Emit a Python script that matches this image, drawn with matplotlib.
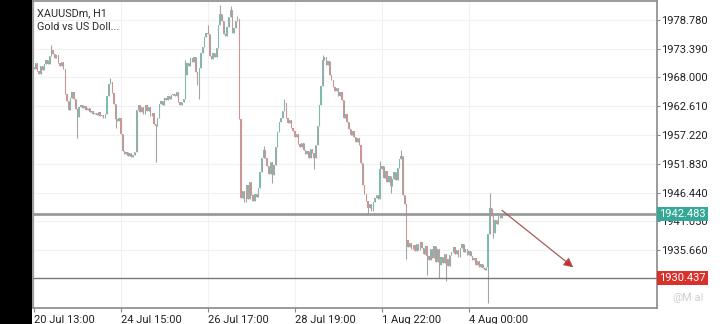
import matplotlib
matplotlib.use("Agg")
import matplotlib.pyplot as plt
from matplotlib.patches import Rectangle
from matplotlib.transforms import blended_transform_factory

plt.rcParams['font.family'] = ['Roboto', 'DejaVu Sans']

# ---------------- data (H1 closes) ----------------
first_open = 1970.0
closes = [
    1969.5, 1970.8, 1969.2, 1968.6, 1970.1, 1969.4, 1970.6, 1971.2, 1970.5, 1972.1,
    1973.2, 1972.4, 1971.6, 1972.3, 1970.8, 1970.2, 1970.9, 1969.6, 1965.0, 1963.6,
    1962.0, 1964.2, 1965.3, 1964.0, 1962.1, 1960.6, 1962.4, 1962.9, 1962.3, 1962.6,
    1961.9, 1962.2, 1961.5, 1961.8, 1961.1, 1961.4, 1960.9, 1961.6, 1960.7, 1961.0,
    1960.5, 1961.2, 1964.5, 1966.8, 1967.2, 1965.1, 1963.0, 1960.3, 1959.8, 1960.4,
    1957.5, 1954.2, 1953.6, 1954.0, 1953.2, 1953.8, 1953.1, 1953.5, 1954.0, 1962.0,
    1962.8, 1961.6, 1962.4, 1961.2, 1962.9, 1961.8, 1962.5, 1960.8, 1961.4, 1959.3,
    1958.9, 1960.4, 1963.0, 1963.6, 1962.9, 1964.2, 1963.8, 1964.5, 1964.0, 1964.7,
    1965.0, 1964.6, 1965.2, 1963.4, 1962.8, 1963.5, 1963.9, 1968.5, 1970.8, 1970.2,
    1971.6, 1970.9, 1971.8, 1969.0, 1966.5, 1969.8, 1972.5, 1973.8, 1975.6, 1976.4,
    1976.2, 1972.0, 1971.5, 1972.6, 1971.8, 1973.5, 1977.8, 1979.9, 1978.6, 1976.2,
    1975.8, 1977.5, 1979.4, 1980.6, 1976.4, 1977.2, 1978.5, 1978.9, 1960.2, 1945.5,
    1946.8, 1944.6, 1947.9, 1945.2, 1948.4, 1946.0, 1944.9, 1946.2, 1945.6, 1947.3,
    1950.2, 1952.9, 1954.5, 1953.0, 1951.5, 1950.0, 1952.2, 1949.8, 1951.6, 1955.0,
    1957.8, 1959.6, 1960.4, 1961.8, 1963.2, 1960.5, 1959.4, 1960.0, 1958.6, 1957.9,
    1956.8, 1957.4, 1955.6, 1954.9, 1955.8, 1954.5, 1953.6, 1954.2, 1953.0, 1954.6,
    1953.8, 1952.9, 1955.4, 1959.0, 1962.8, 1966.4, 1971.2, 1971.8, 1970.4, 1971.0,
    1968.4, 1967.6, 1966.3, 1965.4, 1966.0, 1964.6, 1965.2, 1963.8, 1960.5, 1961.2,
    1959.6, 1958.4, 1957.2, 1957.9, 1956.8, 1956.0, 1956.6, 1955.4, 1952.0, 1947.8,
    1946.2, 1944.8, 1943.6, 1944.2, 1943.0, 1944.6, 1945.5, 1946.0, 1945.2, 1950.8,
    1951.4, 1949.2, 1950.5, 1948.4, 1949.6, 1947.6, 1948.9, 1950.2, 1948.8, 1951.0,
    1952.8, 1953.2, 1946.0, 1944.2, 1937.5, 1936.2, 1937.0, 1935.8, 1936.6, 1935.4,
    1936.8, 1935.6, 1937.2, 1936.0, 1935.0, 1936.4, 1934.6, 1933.8, 1935.9, 1934.2,
    1936.5, 1933.5, 1935.8, 1932.9, 1934.4, 1933.2, 1935.0, 1934.0, 1932.6, 1934.8,
    1935.2, 1936.3, 1934.9, 1935.6, 1934.4, 1936.0, 1936.8, 1935.3, 1935.9, 1934.7,
    1935.4, 1934.6, 1933.8, 1934.2, 1932.9, 1933.6, 1932.5, 1933.1, 1932.3, 1931.9,
    1932.4, 1938.6, 1943.6, 1942.0, 1938.9, 1941.2, 1940.6, 1942.0, 1941.6, 1942.483,
]
# notable wicks (bar index -> price)
wick_highs = {10: 1974.0, 44: 1967.9, 87: 1971.2, 100: 1977.8, 107: 1981.6, 113: 1981.4,
              117: 1979.6, 132: 1955.2, 144: 1963.9, 166: 1972.3, 199: 1952.3,
              211: 1954.5, 262: 1946.4}
wick_lows = {25: 1956.7, 47: 1958.6, 70: 1952.1, 95: 1963.9, 137: 1948.3, 161: 1950.9,
             192: 1942.3, 205: 1946.3, 214: 1934.0, 226: 1931.0, 233: 1930.5,
             237: 1929.8, 261: 1925.8, 264: 1938.0}

y_ticks = [1935.660, 1941.050, 1946.440, 1951.830, 1957.220, 1962.610, 1968.000, 1973.390, 1978.780]
x_tick_bars = [0, 50, 100, 150, 200, 250]
x_tick_labels = ["20 Jul 13:00", "24 Jul 15:00", "26 Jul 17:00", "28 Jul 19:00", "1 Aug 22:00", "4 Aug 00:00"]
level_upper = 1942.483
level_lower = 1930.437
arrow_start = (269, 1943.1)
arrow_end = (310, 1932.4)

# ---------------- derived OHLC ----------------
opens = [first_open] + closes[:-1]
highs = [max(o, c) for o, c in zip(opens, closes)]
lows = [min(o, c) for o, c in zip(opens, closes)]
for k, v in wick_highs.items():
    highs[k] = max(highs[k], v)
for k, v in wick_lows.items():
    lows[k] = min(lows[k], v)
xs = list(range(len(closes)))

# ---------------- figure ----------------
fig = plt.figure(figsize=(7.2, 3.24), dpi=100)
fig.patch.set_facecolor('white')
ax = fig.add_axes([33/720, 1 - 308/324, 624/720, 307/324])
ax.set_xlim(-0.5, 358.1)
ax.set_ylim(1924.79, 1982.34)

up_c, dn_c = '#7fbab1', '#cf9494'
cols = [up_c if c >= o else dn_c for o, c in zip(opens, closes)]
ax.vlines(xs, lows, highs, colors='#a4a4a4', linewidth=0.8, zorder=3)
ax.bar(xs, [max(abs(c - o), 0.15) for o, c in zip(opens, closes)],
       bottom=[min(o, c) for o, c in zip(opens, closes)],
       width=0.75, color=cols, edgecolor='none', zorder=4)

# levels
ax.axhline(level_upper, color='#9a9a9a', lw=2.0, zorder=5)
ax.axhline(level_lower, color='#7a7a7a', lw=1.0, zorder=5)

# arrow
ax.annotate('', xy=arrow_end, xytext=arrow_start,
            arrowprops=dict(arrowstyle='-|>', edgecolor='#a35a58', facecolor='#e01f1f',
                            lw=0.9, mutation_scale=14, shrinkA=0, shrinkB=0), zorder=6)

# grid
ax.set_yticks(y_ticks)
ax.set_yticklabels([f"{v:.3f}" for v in y_ticks])
ax.set_xticks(x_tick_bars)
ax.set_xticklabels(x_tick_labels, ha='left')
ax.grid(True, color='#f1f1f1', lw=0.8, zorder=0)
ax.yaxis.tick_right()
ax.tick_params(axis='y', length=2, pad=1, labelsize=8, colors='#888888', labelcolor='#222222')
ax.tick_params(axis='x', length=3, pad=2, labelsize=8, colors='#888888', labelcolor='#222222')
for s in ax.spines.values():
    s.set_color('#8a8a8a')
    s.set_linewidth(1.2)

# price boxes
tr = blended_transform_factory(ax.transAxes, ax.transData)
ax.text(1.004, level_upper, f"{level_upper:.3f}", transform=tr, ha='left', va='center',
        color='white', fontsize=8, clip_on=False, zorder=10,
        bbox=dict(boxstyle='square,pad=0.18', fc='#36a897', ec='none'))
ax.text(1.004, level_lower, f"{level_lower:.3f}", transform=tr, ha='left', va='center',
        color='white', fontsize=8, clip_on=False, zorder=10,
        bbox=dict(boxstyle='square,pad=0.18', fc='#d8302b', ec='none'))

# title
fig.text(37/720, 1 - 13/324, "XAUUSDm, H1", fontsize=7.8, color='#2a2a2a', va='center', ha='left')
fig.text(37/720, 1 - 27/324, "Gold vs US Doll...", fontsize=7.8, color='#2a2a2a', va='center', ha='left')

# watermark
fig.text(672/720, 1 - 298/324, "@M·al", fontsize=8, color='#d0d0d0', va='center', ha='left')

# left black strip
fig.patches.append(Rectangle((0, 0), 32/720, 1, transform=fig.transFigure,
                             facecolor='black', edgecolor='none', zorder=20))

fig.savefig("out.png", dpi=100)
